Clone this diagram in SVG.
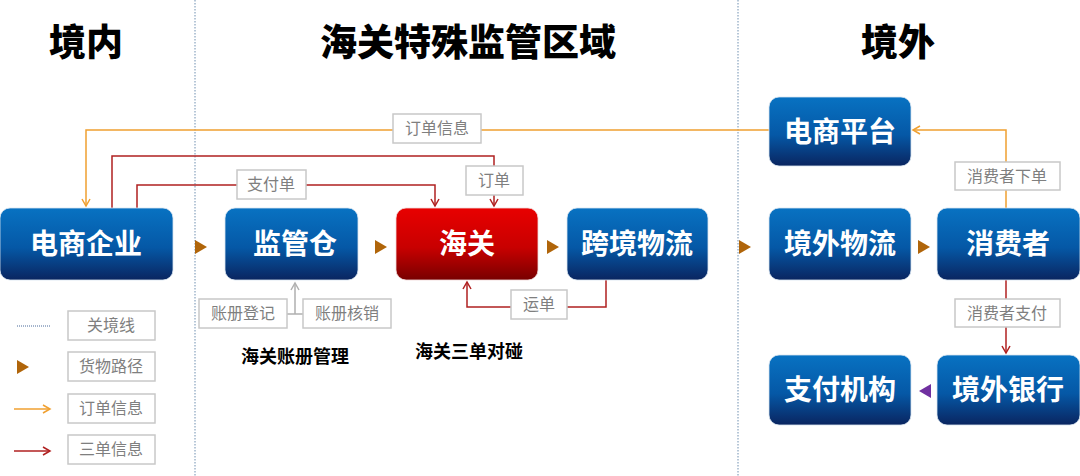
<svg xmlns="http://www.w3.org/2000/svg" width="1080" height="476" viewBox="0 0 1080 476">
<style>
.t{font-family:"Liberation Sans","Noto Sans CJK SC",sans-serif;font-weight:900;fill:#000;text-anchor:middle}
.nt{font-family:"Liberation Sans","Noto Sans CJK SC",sans-serif;font-weight:700;font-size:28px;fill:#fff;text-anchor:middle}
.lb{fill:#fff;stroke:#c8c8c8;stroke-width:1.5}
.lt{font-family:"Liberation Sans","Noto Sans CJK SC",sans-serif;font-size:16px;fill:#7f7f7f;text-anchor:middle}
.bt{font-family:"Liberation Sans","Noto Sans CJK SC",sans-serif;font-weight:700;font-size:18px;fill:#000;text-anchor:middle}
.dl{stroke:#6f8fb0;stroke-width:1;stroke-dasharray:1.5 1.5;fill:none}
.or{stroke:#F0A030;stroke-width:1.5;fill:none}
.rd{stroke:#B02020;stroke-width:1.5;fill:none}
.gy{stroke:#b0b0b0;stroke-width:1.5;fill:none}
.cg{fill:#B0650A}
</style>
<defs>
<linearGradient id="gb" x1="0" y1="0" x2="0" y2="1">
<stop offset="0" stop-color="#0872C2"/><stop offset="0.55" stop-color="#0558A6"/><stop offset="1" stop-color="#0A2560"/>
</linearGradient>
<linearGradient id="gr" x1="0" y1="0" x2="0" y2="1">
<stop offset="0" stop-color="#E80000"/><stop offset="0.55" stop-color="#C80000"/><stop offset="1" stop-color="#780000"/>
</linearGradient>
<marker id="ao" markerWidth="10" markerHeight="10" refX="8" refY="5" orient="auto" markerUnits="userSpaceOnUse"><path d="M1,1 L8,5 L1,9" fill="none" stroke="#F0A030" stroke-width="1.5"/></marker>
<marker id="ar" markerWidth="10" markerHeight="10" refX="8" refY="5" orient="auto" markerUnits="userSpaceOnUse"><path d="M1,1 L8,5 L1,9" fill="none" stroke="#B02020" stroke-width="1.5"/></marker>
<marker id="ag" markerWidth="10" markerHeight="10" refX="8" refY="5" orient="auto" markerUnits="userSpaceOnUse"><path d="M1,1 L8,5 L1,9" fill="none" stroke="#b0b0b0" stroke-width="1.5"/></marker>
</defs>
<rect width="1080" height="476" fill="#fff"/>
<g id="borders">
<line class="dl" x1="195" y1="0" x2="195" y2="476"/>
<line class="dl" x1="738" y1="0" x2="738" y2="476"/>
</g>
<g id="titles">
<text class="t" x="86" y="56" font-size="37">境内</text>
<text class="t" x="468" y="56" font-size="37">海关特殊监管区域</text>
<text class="t" x="898" y="56" font-size="37">境外</text>
</g>
<g id="connectors">
<path class="or" d="M1006,208 V130 H913" marker-end="url(#ao)"/>
<path class="or" d="M769,130 H86 V206" marker-end="url(#ao)"/>
<path class="rd" d="M112,208 V156 H494 V206" marker-end="url(#ar)"/>
<path class="rd" d="M137,208 V185 H435 V206" marker-end="url(#ar)"/>
<path class="rd" d="M606,280 V307 H467 V282" marker-end="url(#ar)"/>
<path class="gy" d="M287,314 H303 M295,314 V283" marker-end="url(#ag)"/>
<path class="rd" d="M1006,280 V353" marker-end="url(#ar)"/>
<polygon class="cg" points="195,240 207,247 195,254"/>
<polygon class="cg" points="375,240 387,247 375,254"/>
<polygon class="cg" points="547,240 559,247 547,254"/>
<polygon class="cg" points="739,240 751,247 739,254"/>
<polygon class="cg" points="918,240 930,247 918,254"/>
<polygon fill="#7030A0" points="931,384 919,391 931,398"/>
</g>
<g id="labels">
<rect class="lb" x="393" y="114" width="88" height="29"/><text class="lt" x="437" y="134">订单信息</text>
<rect class="lb" x="955" y="162" width="105" height="28"/><text class="lt" x="1007" y="182">消费者下单</text>
<rect class="lb" x="466" y="166" width="57" height="29"/><text class="lt" x="494" y="186">订单</text>
<rect class="lb" x="237" y="170" width="69" height="29"/><text class="lt" x="271" y="190">支付单</text>
<rect class="lb" x="511" y="290" width="56" height="29"/><text class="lt" x="539" y="310">运单</text>
<rect class="lb" x="199" y="299" width="88" height="29"/><text class="lt" x="243" y="319">账册登记</text>
<rect class="lb" x="303" y="299" width="88" height="29"/><text class="lt" x="347" y="319">账册核销</text>
<rect class="lb" x="955" y="299" width="105" height="28"/><text class="lt" x="1007" y="319">消费者支付</text>
<text class="bt" x="295" y="363">海关账册管理</text>
<text class="bt" x="469" y="358">海关三单对碰</text>
</g>
<g id="n-dsqy"><rect x="0" y="208" width="173" height="72" rx="10" fill="url(#gb)" stroke="#d8e4f0" stroke-width="0.8"/><text class="nt" x="86" y="254">电商企业</text></g>
<g id="n-jgc"><rect x="225" y="208" width="133" height="72" rx="10" fill="url(#gb)" stroke="#d8e4f0" stroke-width="0.8"/><text class="nt" x="295" y="254">监管仓</text></g>
<g id="n-hg"><rect x="396" y="208" width="142" height="72" rx="10" fill="url(#gr)" stroke="#f0d8d8" stroke-width="0.8"/><text class="nt" x="467" y="254">海关</text></g>
<g id="n-kjwl"><rect x="567" y="208" width="141" height="72" rx="10" fill="url(#gb)" stroke="#d8e4f0" stroke-width="0.8"/><text class="nt" x="637" y="254">跨境物流</text></g>
<g id="n-dspt"><rect x="769" y="97" width="142" height="69" rx="10" fill="url(#gb)" stroke="#d8e4f0" stroke-width="0.8"/><text class="nt" x="840" y="142">电商平台</text></g>
<g id="n-jwwl"><rect x="769" y="208" width="142" height="72" rx="10" fill="url(#gb)" stroke="#d8e4f0" stroke-width="0.8"/><text class="nt" x="840" y="254">境外物流</text></g>
<g id="n-xfz"><rect x="937" y="208" width="143" height="72" rx="10" fill="url(#gb)" stroke="#d8e4f0" stroke-width="0.8"/><text class="nt" x="1008" y="254">消费者</text></g>
<g id="n-zfjg"><rect x="769" y="355" width="142" height="70" rx="10" fill="url(#gb)" stroke="#d8e4f0" stroke-width="0.8"/><text class="nt" x="840" y="400">支付机构</text></g>
<g id="n-jwyh"><rect x="937" y="355" width="143" height="70" rx="10" fill="url(#gb)" stroke="#d8e4f0" stroke-width="0.8"/><text class="nt" x="1008" y="400">境外银行</text></g>
<g id="legend">
<line x1="17" y1="326" x2="50" y2="326" stroke="#4a6a9a" stroke-width="1" stroke-dasharray="1 1"/>
<rect class="lb" x="68" y="311" width="87" height="29"/><text class="lt" x="111" y="331">关境线</text>
<polygon class="cg" points="17,360 29,367 17,374"/>
<rect class="lb" x="68" y="352" width="87" height="29"/><text class="lt" x="111" y="372">货物路径</text>
<path class="or" d="M14,409 H50" marker-end="url(#ao)"/>
<rect class="lb" x="68" y="394" width="87" height="29"/><text class="lt" x="111" y="414">订单信息</text>
<path class="rd" d="M14,451 H50" marker-end="url(#ar)"/>
<rect class="lb" x="68" y="435" width="87" height="29"/><text class="lt" x="111" y="455">三单信息</text>
</g>
</svg>
